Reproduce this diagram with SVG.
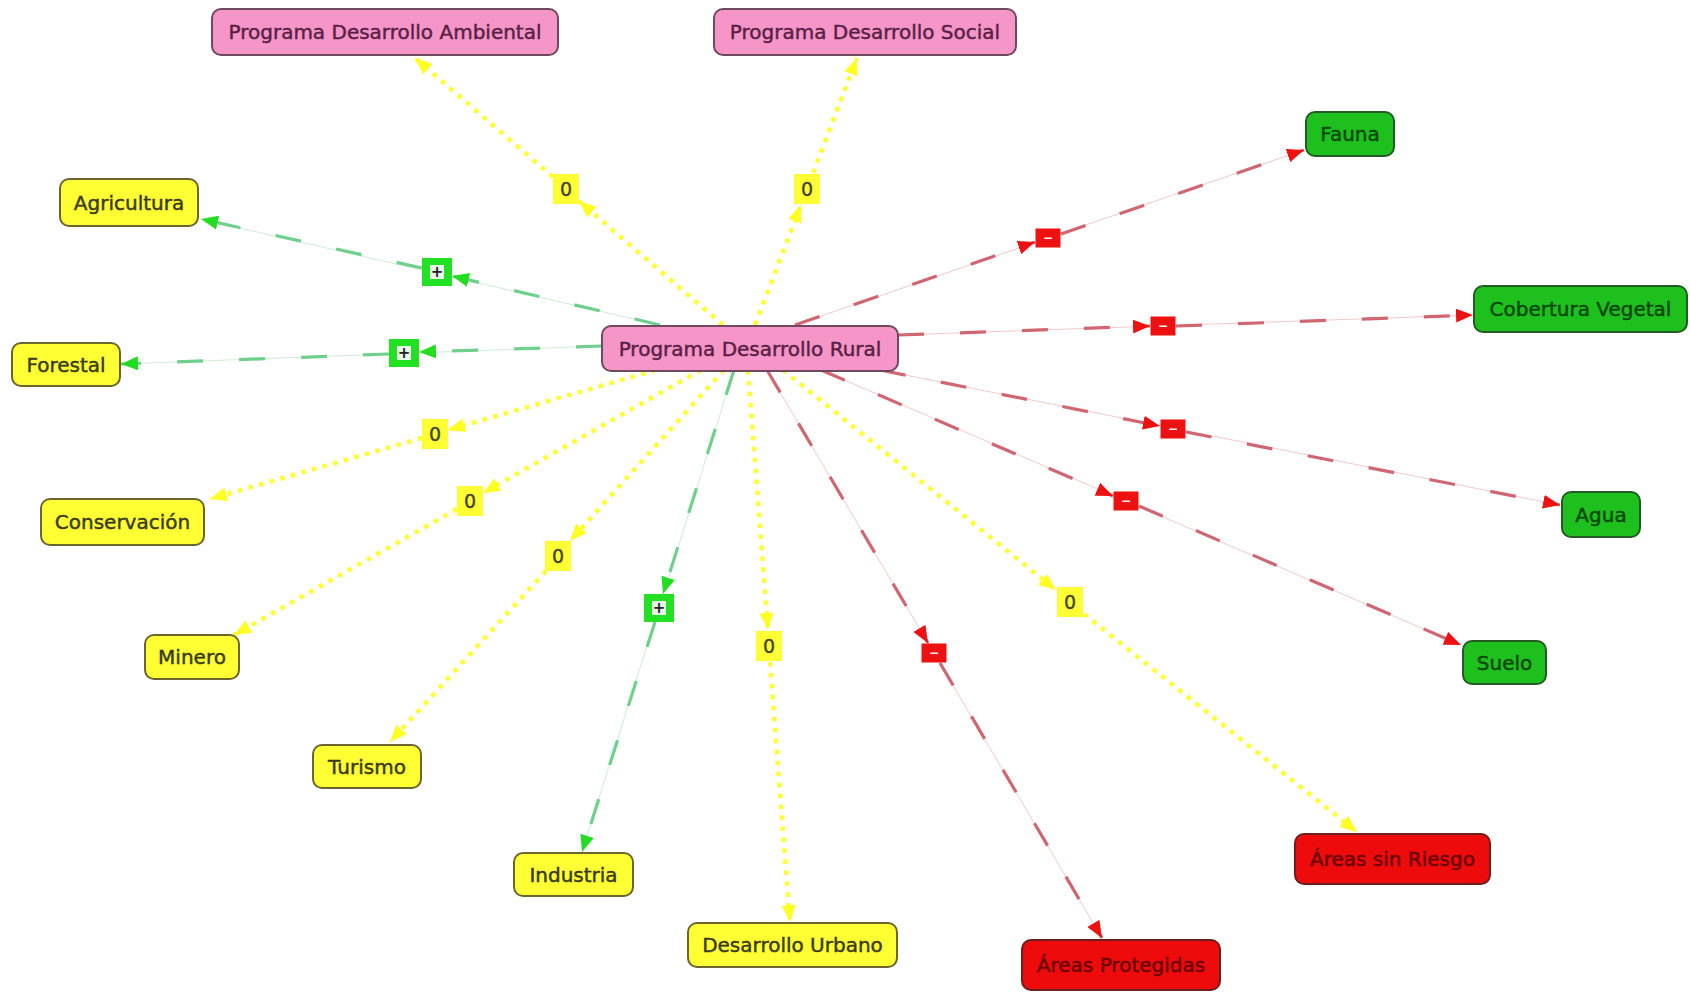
<svg xmlns="http://www.w3.org/2000/svg" width="1691" height="992" viewBox="0 0 1691 992">
  <defs>
    <marker id="arrRed" markerUnits="userSpaceOnUse" markerWidth="18" markerHeight="14" refX="17" refY="7" orient="auto">
      <path d="M0,0 L17,7 L0,14 z" fill="#ee1111"/>
    </marker>
    <marker id="arrGreen" markerUnits="userSpaceOnUse" markerWidth="18" markerHeight="14" refX="17" refY="7" orient="auto">
      <path d="M0,0 L17,7 L0,14 z" fill="#22dd22"/>
    </marker>
    <marker id="arrYellow" markerUnits="userSpaceOnUse" markerWidth="18" markerHeight="14" refX="17" refY="7" orient="auto">
      <path d="M0,0 L17,7 L0,14 z" fill="#ffff22"/>
    </marker>
  </defs>
  <style>
    text { font-family: "DejaVu Sans", Verdana, sans-serif; }
    .node { stroke-width: 2; }
    .pink { fill: #f595c8; stroke: #6e4a5e; }
    .yellow { fill: #ffff33; stroke: #6b6530; }
    .green { fill: #1ec01e; stroke: #245a24; }
    .red { fill: #ee0b0b; stroke: #6a2020; }
    .lbl { font-size: 20px; text-anchor: middle; stroke-width: 0.45; }
    .tPink { fill: #5a1f45; stroke: #5a1f45; }
    .tYellow { fill: #3a3a20; stroke: #3a3a20; }
    .tGreen { fill: #0c470c; stroke: #0c470c; }
    .tRed { fill: #6a0505; stroke: #6a0505; }
    .base { fill: none; stroke-width: 1; }
    .redBase { stroke: #f2c8cc; }
    .greenBase { stroke: #cdeed6; }
    .red-dash { fill: none; stroke: #cf6672; stroke-width: 3.2; stroke-dasharray: 26 36; marker-end: url(#arrRed); }
    .green-dash { fill: none; stroke: #6fcf8c; stroke-width: 3.2; stroke-dasharray: 26 36; marker-end: url(#arrGreen); }
    .yellow-dot { fill: none; stroke: #ffff33; stroke-width: 4.5; stroke-dasharray: 4.5 6.5; marker-end: url(#arrYellow); }
    .box0 { fill: #ffff33; }
    .boxPlus { fill: #22e022; }
    .boxMinus { fill: #ee1111; }
    .t0 { font-size: 19px; fill: #45453a; stroke: #45453a; stroke-width: 0.4; text-anchor: middle; }
    .tPlus { font-size: 15px; fill: #222; text-anchor: middle; font-weight: bold; }
    .tMinus { font-size: 12px; fill: #ffffff; text-anchor: middle; font-weight: bold; }
  </style>

  <rect width="1691" height="992" fill="#ffffff"/>

  <!-- connectors: each one runs centre node -> sign label -> target -->
  <g id="connectors">
    <!-- to Programa Desarrollo Ambiental -->
    <path class="yellow-dot" d="M723,325 L579,201"/>
    <path class="yellow-dot" d="M553,177 L415,58"/>
    <!-- to Programa Desarrollo Social -->
    <path class="yellow-dot" d="M755,325 L801,205"/>
    <path class="yellow-dot" d="M813,173 L857,58"/>
    <!-- to Fauna -->
    <path class="base redBase" d="M795,325 L1304,150"/>
    <path class="red-dash" d="M795,325 L1035,242"/>
    <path class="red-dash" d="M1061,234 L1304,150"/>
    <!-- to Cobertura Vegetal -->
    <path class="base redBase" d="M898,335 L1473,315"/>
    <path class="red-dash" d="M898,335 L1150,326"/>
    <path class="red-dash" d="M1176,326 L1473,315"/>
    <!-- to Agua -->
    <path class="base redBase" d="M880,370 L1560,505"/>
    <path class="red-dash" d="M880,370 L1160,426"/>
    <path class="red-dash" d="M1186,432 L1560,505"/>
    <!-- to Suelo -->
    <path class="base redBase" d="M821,370 L1461,645"/>
    <path class="red-dash" d="M821,370 L1113,496"/>
    <path class="red-dash" d="M1139,506 L1461,645"/>
    <!-- to Areas Protegidas -->
    <path class="base redBase" d="M767,370 L1102,938"/>
    <path class="red-dash" d="M767,370 L928,643"/>
    <path class="red-dash" d="M940,663 L1102,938"/>
    <!-- to Areas sin Riesgo -->
    <path class="yellow-dot" d="M783,370 L1056,590"/>
    <path class="yellow-dot" d="M1084,614 L1357,832"/>
    <!-- to Desarrollo Urbano -->
    <path class="yellow-dot" d="M748,370 L768,630"/>
    <path class="yellow-dot" d="M770,662 L790,922"/>
    <!-- to Industria -->
    <path class="base greenBase" d="M734,370 L582,852"/>
    <path class="green-dash" d="M734,370 L663,594"/>
    <path class="green-dash" d="M655,622 L582,852"/>
    <!-- to Turismo -->
    <path class="yellow-dot" d="M724,370 L570,541"/>
    <path class="yellow-dot" d="M546,571 L390,742"/>
    <!-- to Minero -->
    <path class="yellow-dot" d="M701,370 L483,493"/>
    <path class="yellow-dot" d="M457,509 L234,635"/>
    <!-- to Conservacion -->
    <path class="yellow-dot" d="M656,370 L448,430"/>
    <path class="yellow-dot" d="M422,438 L210,499"/>
    <!-- to Forestal -->
    <path class="base greenBase" d="M602,346 L121,364"/>
    <path class="green-dash" d="M602,346 L419,352"/>
    <path class="green-dash" d="M389,354 L121,364"/>
    <!-- to Agricultura -->
    <path class="base greenBase" d="M660,325 L201,219"/>
    <path class="green-dash" d="M660,325 L452,276"/>
    <path class="green-dash" d="M422,268 L201,219"/>

    <!-- sign labels -->
    <g id="sign-ambiental"><rect class="box0" x="553" y="174" width="26" height="30"/><text class="t0" x="566" y="196">0</text></g>
    <g id="sign-social"><rect class="box0" x="794" y="174" width="26" height="30"/><text class="t0" x="807" y="196">0</text></g>
    <g id="sign-conservacion"><rect class="box0" x="422" y="419" width="26" height="30"/><text class="t0" x="435" y="441">0</text></g>
    <g id="sign-minero"><rect class="box0" x="457" y="486" width="26" height="30"/><text class="t0" x="470" y="508">0</text></g>
    <g id="sign-turismo"><rect class="box0" x="545" y="541" width="26" height="30"/><text class="t0" x="558" y="563">0</text></g>
    <g id="sign-urbano"><rect class="box0" x="756" y="631" width="26" height="30"/><text class="t0" x="769" y="653">0</text></g>
    <g id="sign-sinriesgo"><rect class="box0" x="1057" y="587" width="26" height="30"/><text class="t0" x="1070" y="609">0</text></g>

    <g id="sign-agricultura"><rect class="boxPlus" x="422" y="258" width="30" height="28"/><rect x="430" y="265" width="14" height="14" fill="#e8f8e8"/><text class="tPlus" x="437" y="277">+</text></g>
    <g id="sign-forestal"><rect class="boxPlus" x="389" y="339" width="30" height="28"/><rect x="397" y="346" width="14" height="14" fill="#e8f8e8"/><text class="tPlus" x="404" y="358">+</text></g>
    <g id="sign-industria"><rect class="boxPlus" x="644" y="594" width="30" height="28"/><rect x="652" y="601" width="14" height="14" fill="#e8f8e8"/><text class="tPlus" x="659" y="613">+</text></g>

    <g id="sign-fauna"><rect class="boxMinus" x="1035.5" y="228.5" width="25" height="19"/><text class="tMinus" x="1048" y="242">−</text></g>
    <g id="sign-cobertura"><rect class="boxMinus" x="1150.5" y="316.5" width="25" height="19"/><text class="tMinus" x="1163" y="330">−</text></g>
    <g id="sign-agua"><rect class="boxMinus" x="1160.5" y="419.5" width="25" height="19"/><text class="tMinus" x="1173" y="433">−</text></g>
    <g id="sign-suelo"><rect class="boxMinus" x="1113.5" y="491.5" width="25" height="19"/><text class="tMinus" x="1126" y="505">−</text></g>
    <g id="sign-protegidas"><rect class="boxMinus" x="921.5" y="643.5" width="25" height="19"/><text class="tMinus" x="934" y="657">−</text></g>
  </g>

  <!-- nodes -->
  <g id="node-rural"><rect class="node pink" x="602" y="326" width="296" height="45" rx="9"/><text class="lbl tPink" x="750" y="355.5">Programa Desarrollo Rural</text></g>
  <g id="node-ambiental"><rect class="node pink" x="212" y="9" width="346" height="46" rx="9"/><text class="lbl tPink" x="385" y="39">Programa Desarrollo Ambiental</text></g>
  <g id="node-social"><rect class="node pink" x="714" y="9" width="302" height="46" rx="9"/><text class="lbl tPink" x="865" y="39">Programa Desarrollo Social</text></g>

  <g id="node-fauna"><rect class="node green" x="1306" y="112" width="88" height="44" rx="9"/><text class="lbl tGreen" x="1350" y="141">Fauna</text></g>
  <g id="node-cobertura"><rect class="node green" x="1474" y="286" width="213" height="46" rx="9"/><text class="lbl tGreen" x="1580.5" y="316">Cobertura Vegetal</text></g>
  <g id="node-agua"><rect class="node green" x="1562" y="492" width="78" height="45" rx="9"/><text class="lbl tGreen" x="1601" y="521.5">Agua</text></g>
  <g id="node-suelo"><rect class="node green" x="1463" y="641" width="83" height="43" rx="9"/><text class="lbl tGreen" x="1504.5" y="669.5">Suelo</text></g>

  <g id="node-sinriesgo"><rect class="node red" x="1295" y="834" width="195" height="50" rx="9"/><text class="lbl tRed" x="1392.5" y="866">Áreas sin Riesgo</text></g>
  <g id="node-protegidas"><rect class="node red" x="1022" y="940" width="198" height="50" rx="9"/><text class="lbl tRed" x="1121" y="972">Áreas Protegidas</text></g>

  <g id="node-urbano"><rect class="node yellow" x="688" y="923" width="209" height="44" rx="9"/><text class="lbl tYellow" x="792.5" y="952">Desarrollo Urbano</text></g>
  <g id="node-industria"><rect class="node yellow" x="514" y="853" width="119" height="43" rx="9"/><text class="lbl tYellow" x="573.5" y="881.5">Industria</text></g>
  <g id="node-turismo"><rect class="node yellow" x="313" y="745" width="108" height="43" rx="9"/><text class="lbl tYellow" x="367" y="773.5">Turismo</text></g>
  <g id="node-minero"><rect class="node yellow" x="145" y="635" width="94" height="44" rx="9"/><text class="lbl tYellow" x="192" y="664">Minero</text></g>
  <g id="node-conservacion"><rect class="node yellow" x="41" y="499" width="163" height="46" rx="9"/><text class="lbl tYellow" x="122.5" y="529">Conservación</text></g>
  <g id="node-forestal"><rect class="node yellow" x="12" y="343" width="108" height="43" rx="9"/><text class="lbl tYellow" x="66" y="371.5">Forestal</text></g>
  <g id="node-agricultura"><rect class="node yellow" x="60" y="179" width="138" height="47" rx="9"/><text class="lbl tYellow" x="129" y="209.5">Agricultura</text></g>
</svg>
